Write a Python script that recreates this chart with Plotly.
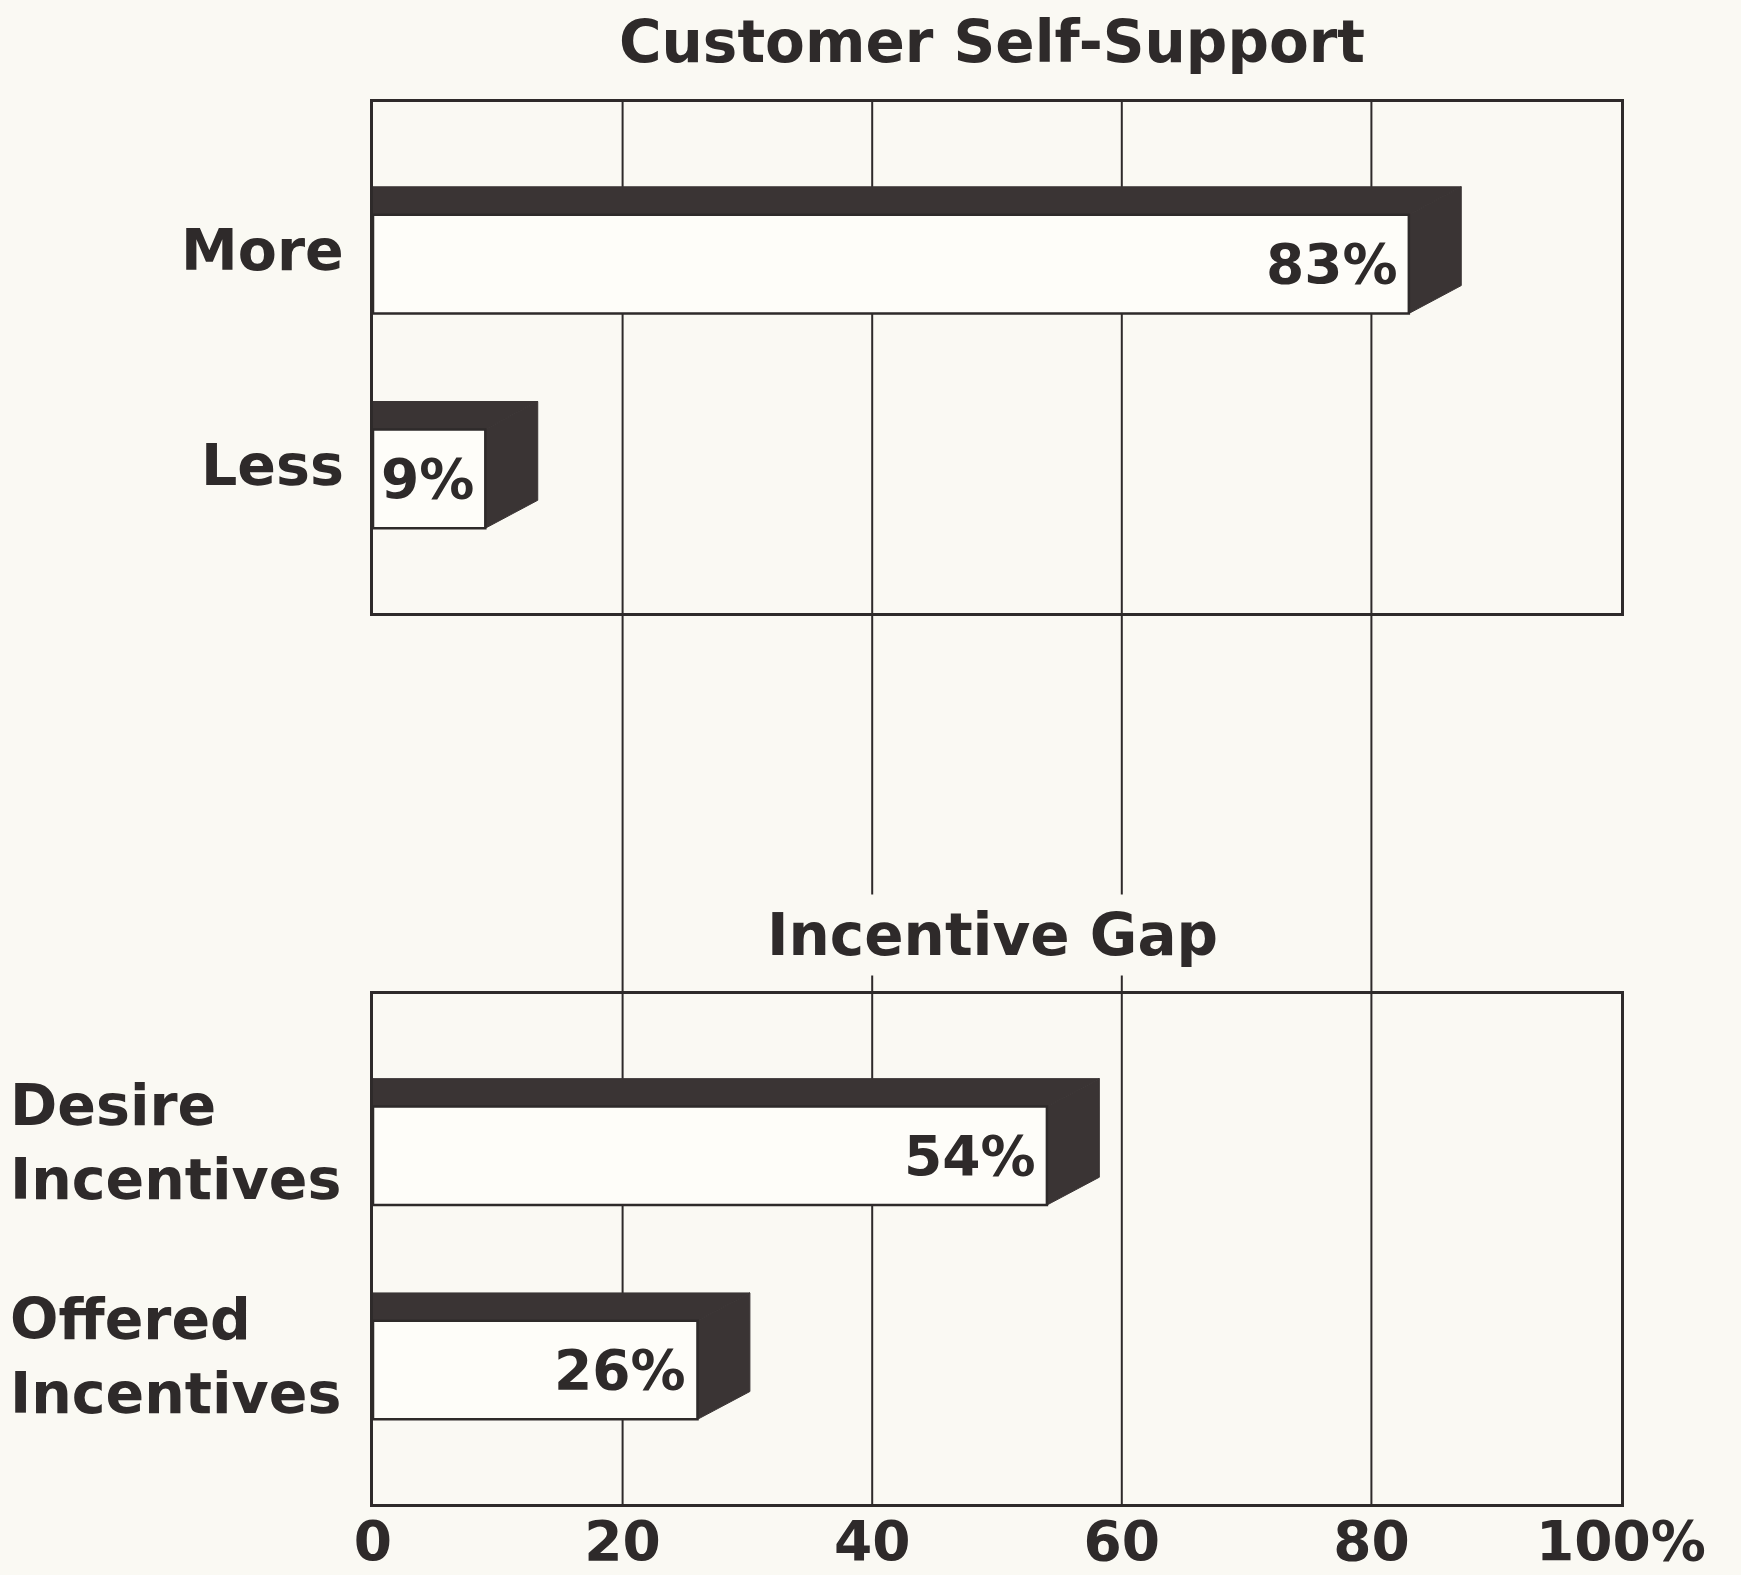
import plotly.graph_objects as go

# ---- data -------------------------------------------------------------
panel_titles = ["Customer Self-Support", "Incentive Gap"]

self_support_labels = ["More", "Less"]
self_support_values = [83, 9]

incentive_labels = ["Desire<br>Incentives", "Offered<br>Incentives"]
incentive_values = [54, 26]

tick_values = [0, 20, 40, 60, 80, 100]
tick_labels = ["0", "20", "40", "60", "80", "100%"]

# ---- styling ----------------------------------------------------------
W, H = 1741, 1575
PAPER = "#faf9f3"
FACE = "#fefdf9"
DARK = "#3a3434"
INK = "#2e2a2a"
FONT = "DejaVu Sans"

# bar geometry (data units): half height, oblique depth in y and x
HALF = 0.295
DEPTH_Y = 0.13
DEPTH_X = 4.2
Y_RANGE = [-0.69, 1.69]

X_DOMAIN = [373 / W, 1621 / W]
TOP_DOMAIN = [1 - 613 / H, 1 - 102 / H]
BOT_DOMAIN = [1 - 1504 / H, 1 - 994 / H]

fig = go.Figure()


def add_bars(labels, values, xref, yref):
    n = len(labels)
    for i, v in enumerate(values):
        c = n - 1 - i
        y_lo = c - HALF
        y_front_top = c + HALF - DEPTH_Y
        y_back_top = c + HALF
        common = dict(mode="lines", fill="toself", hoverinfo="skip",
                      showlegend=False, xaxis=xref, yaxis=yref)
        # top face
        fig.add_trace(go.Scatter(
            x=[0, v, v + DEPTH_X, 0, 0],
            y=[y_front_top, y_front_top, y_back_top, y_back_top, y_front_top],
            fillcolor=DARK, line=dict(color=DARK, width=1), **common))
        # side face
        fig.add_trace(go.Scatter(
            x=[v, v + DEPTH_X, v + DEPTH_X, v, v],
            y=[y_lo, y_lo + DEPTH_Y, y_back_top, y_front_top, y_lo],
            fillcolor=DARK, line=dict(color=DARK, width=1), **common))
        # front face
        fig.add_trace(go.Scatter(
            x=[0, v, v, 0, 0],
            y=[y_lo, y_lo, y_front_top, y_front_top, y_lo],
            fillcolor=FACE, line=dict(color=INK, width=2.5), **common))
        # value label inside the front face
        fig.add_annotation(
            x=v, y=(y_lo + y_front_top) / 2, xref=xref, yref=yref,
            text=f"{v}%", showarrow=False, xanchor="right", yanchor="middle",
            xshift=-9, font=dict(family=FONT, size=55, color=INK, weight="bold"))


add_bars(self_support_labels, self_support_values, "x", "y")
add_bars(incentive_labels, incentive_values, "x2", "y2")

# category labels
n_top = len(self_support_labels)
for i, lab in enumerate(self_support_labels):
    fig.add_annotation(
        x=346 / W, xref="paper", y=n_top - 1 - i, yref="y", text=lab,
        showarrow=False, xanchor="right", yanchor="middle",
        font=dict(family=FONT, size=57, color=INK, weight="bold"))

n_bot = len(incentive_labels)
for i, lab in enumerate(incentive_labels):
    fig.add_annotation(
        x=8 / W, xref="paper", y=n_bot - 1 - i, yref="y2", text=lab,
        showarrow=False, xanchor="left", yanchor="middle", align="left",
        font=dict(family=FONT, size=57, color=INK, weight="bold"))

# panel titles
fig.add_annotation(
    x=992 / W, y=1 - 42 / H, xref="paper", yref="paper", text=panel_titles[0],
    showarrow=False, xanchor="center", yanchor="middle",
    font=dict(family=FONT, size=58, color=INK, weight="bold"))
fig.add_annotation(
    x=992 / W, y=1 - 935 / H, xref="paper", yref="paper", text=panel_titles[1],
    showarrow=False, xanchor="center", yanchor="middle", bgcolor=PAPER,
    borderpad=6,
    font=dict(family=FONT, size=58, color=INK, weight="bold"))

# vertical grid lines running through both panels
for t in tick_values[1:-1]:
    fig.add_shape(type="line", xref="x", yref="paper", x0=t, x1=t,
                  y0=BOT_DOMAIN[0], y1=TOP_DOMAIN[1], layer="below",
                  line=dict(color=INK, width=2))

axis_common = dict(range=[0, 100], domain=X_DOMAIN, showgrid=False,
                   zeroline=False, showline=True, mirror=True,
                   linecolor=INK, linewidth=3, ticks="", fixedrange=True,
                   automargin=False)
yaxis_common = dict(range=Y_RANGE, showgrid=False, zeroline=False,
                    showline=True, mirror=True, linecolor=INK, linewidth=3,
                    showticklabels=False, ticks="", fixedrange=True,
                    automargin=False)

fig.update_layout(
    width=W, height=H,
    margin=dict(l=0, r=0, t=0, b=0, autoexpand=False),
    paper_bgcolor=PAPER,
    plot_bgcolor="rgba(0,0,0,0)",
    showlegend=False,
    xaxis=dict(anchor="y", showticklabels=False, **axis_common),
    yaxis=dict(anchor="x", domain=TOP_DOMAIN, **yaxis_common),
    xaxis2=dict(anchor="y2", tickvals=tick_values, ticktext=tick_labels,
                ticklabelstandoff=-13,
                tickfont=dict(family=FONT, size=55, color=INK, weight="bold"),
                **axis_common),
    yaxis2=dict(anchor="x2", domain=BOT_DOMAIN, **yaxis_common),
)

fig.write_html("out.html")
